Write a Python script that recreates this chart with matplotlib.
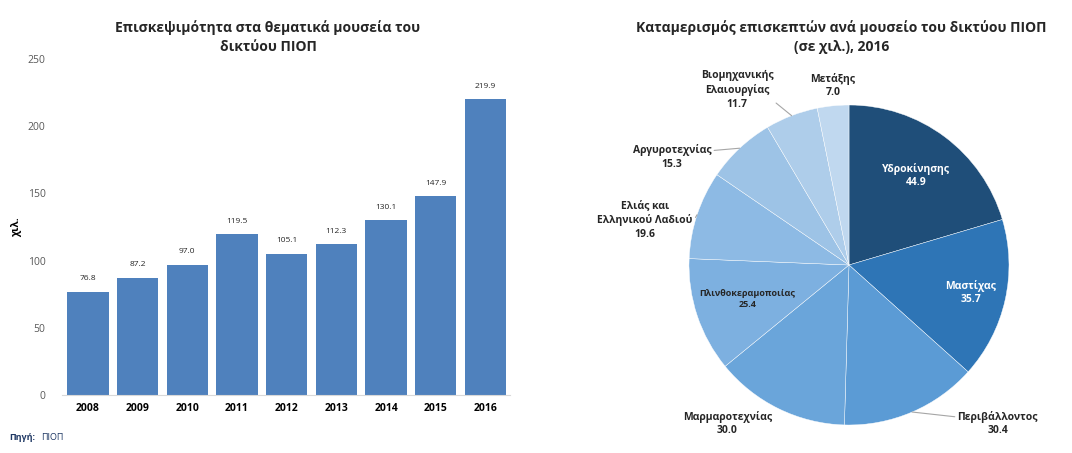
import numpy as np
import matplotlib
matplotlib.use('Agg')
import matplotlib.pyplot as plt

plt.rcParams['font.family'] = ['Open Sans', 'DejaVu Sans']

# bar chart data
years = ['2008', '2009', '2010', '2011', '2012', '2013', '2014', '2015', '2016']
visitors = [76.8, 87.2, 97.0, 119.5, 105.1, 112.3, 130.1, 147.9, 219.9]

# pie chart data (2016)
museums = ['Υδροκίνησης', 'Μαστίχας', 'Περιβάλλοντος', 'Μαρμαροτεχνίας',
           'Πλινθοκεραμοποιίας', 'Ελιάς και\nΕλληνικού Λαδιού', 'Αργυροτεχνίας',
           'Βιομηχανικής\nΕλαιουργίας', 'Μετάξης']
museum_visitors = [44.9, 35.7, 30.4, 30.0, 25.4, 19.6, 15.3, 11.7, 7.0]

pie_colors = ['#1F4E79', '#2E75B6', '#5B9BD5', '#6AA5DA', '#7DB0E0',
              '#8DBAE4', '#9DC3E6', '#AECDEA', '#C0D8EF']

fig = plt.figure(figsize=[10.72, 4.53], dpi=100)

# --- bar chart ---
ax = fig.add_axes([0.058, 0.128, 0.418, 0.742])
x = np.arange(len(years))
ax.bar(x, visitors, width=0.83, color='#4F81BD')
for xi, v in zip(x, visitors):
    ax.text(xi, v + 7, f'{v:.1f}', ha='center', va='bottom', fontsize=6, color='#262626')
ax.set_xlim(-0.52, 8.5)
ax.set_ylim(0, 250)
ax.set_yticks(range(0, 251, 50))
ax.set_xticks(x)
ax.set_xticklabels(years, fontweight='bold', fontsize=7.5)
ax.tick_params(axis='y', labelsize=7.5, labelcolor='#595959', length=0, pad=12)
ax.tick_params(axis='x', length=0, pad=6)
for s in ['top', 'right', 'left']:
    ax.spines[s].set_visible(False)
ax.spines['bottom'].set_color('#D9D9D9')
ax.set_ylabel('χιλ.', fontsize=7.5, fontweight='bold', labelpad=4)
fig.text(0.25, 0.955, 'Επισκεψιμότητα στα θεματικά μουσεία του\nδικτύου ΠΙΟΠ',
         ha='center', va='top', fontsize=10, fontweight='bold', color='#262626',
         linespacing=1.4)

fig.text(0.009, 0.028, 'Πηγή:', fontsize=6.5, fontweight='bold', color='#1F3864')
fig.text(0.038, 0.028, 'ΠΙΟΠ', fontsize=6.5, color='#1F3864')

# --- pie chart ---
R = 160.0  # pie radius in px
pax = fig.add_axes([0.5, 0.0, 0.5, 1.0])
wedges, _ = pax.pie(museum_visitors, colors=pie_colors, startangle=90, counterclock=False,
                    radius=1.0, wedgeprops=dict(edgecolor='white', linewidth=0.3))
pax.set_aspect('equal')
pax.set_xlim((536 - 849) / R, (1072 - 849) / R)
pax.set_ylim(-(453 - 265) / R, 265 / R)
pax.axis('off')

total = sum(museum_visitors)
cum = np.cumsum([0] + museum_visitors[:-1])
mid_angles = [np.deg2rad(90 - (c + v / 2) / total * 360) for c, v in zip(cum, museum_visitors)]

# labels inside wedges
inside = {0: (0.7, 'white', 7.5), 1: (0.78, 'white', 7.5), 4: (0.67, '#262626', 6.5)}
for i, (rf, col, fs) in inside.items():
    a = mid_angles[i]
    pax.text(rf * np.cos(a), rf * np.sin(a), f'{museums[i]}\n{museum_visitors[i]:.1f}',
             ha='center', va='center', fontsize=fs, fontweight='bold', color=col,
             linespacing=1.3)

# labels outside wedges (text positions, with optional leader)
outside = {
    2: ((0.93, -0.99), True, (0.0, 0.75)),
    3: ((-0.76, -0.99), False, None),
    5: ((-1.275, 0.28), True, (1.0, 0.45)),
    6: ((-1.106, 0.675), True, (1.0, 0.75)),
    7: ((-0.70, 1.094), True, (0.85, 0.45)),
    8: ((-0.10, 1.12), False, None),
}
for i, (pos, leader, rp) in outside.items():
    a = mid_angles[i]
    label = f'{museums[i]}\n{museum_visitors[i]:.1f}'
    if leader:
        pax.annotate(label, xy=(np.cos(a), np.sin(a)), xytext=pos,
                     ha='center', va='center', fontsize=7.5, fontweight='bold',
                     color='#262626', linespacing=1.3,
                     arrowprops=dict(arrowstyle='-', color='#A6A6A6', lw=0.8,
                                     shrinkA=0, shrinkB=0, relpos=rp))
    else:
        pax.text(pos[0], pos[1], label, ha='center', va='center', fontsize=7.5,
                 fontweight='bold', color='#262626', linespacing=1.3)

fig.text(0.785, 0.955, 'Καταμερισμός επισκεπτών ανά μουσείο του δικτύου ΠΙΟΠ\n(σε χιλ.), 2016',
         ha='center', va='top', fontsize=10, fontweight='bold', color='#262626',
         linespacing=1.4)

fig.savefig('out.png', dpi=100)
